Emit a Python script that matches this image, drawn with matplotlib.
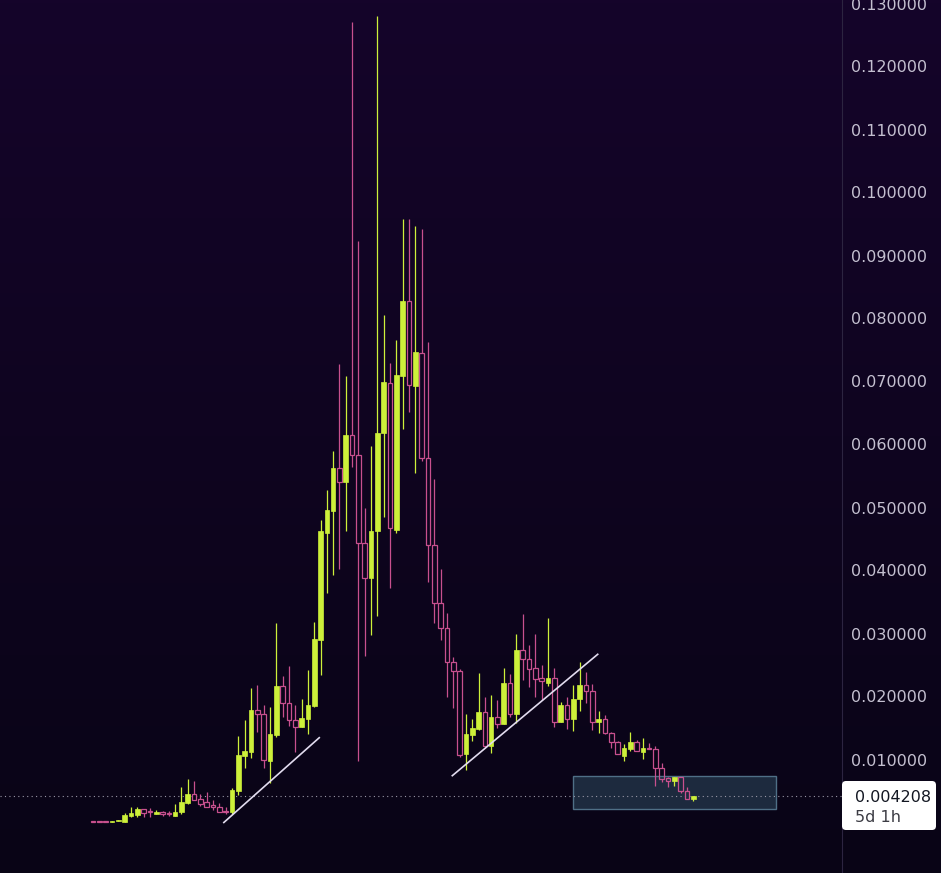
import numpy as np
import matplotlib
matplotlib.use('Agg')
import matplotlib.pyplot as plt
from matplotlib.patches import Rectangle, FancyBboxPatch

# candle data (5d candles)
opens = [.0001, .0001, .0001, .0001, .0002, .0001, .0011, .0012, .0021, .0017,
         .0013, .0016, .0015, .0011, .0016, .0031, .0045, .0037, .0033, .0028,
         .0025, .0019, .0016, .0050, .0106, .0112, .0179, .0173, .0098, .0139,
         .0217, .0189, .0163, .0152, .0165, .0185, .0290, .0460, .0495, .0562,
         .0541, .0615, .0583, .0444, .0388, .0462, .0618, .0698, .0464, .0709,
         .0828, .0693, .0746, .0578, .0440, .0349, .0308, .0254, .0240, .0109,
         .0139, .0148, .0175, .0122, .0167, .0157, .0221, .0172, .0274, .0260,
         .0245, .0229, .0222, .0230, .0160, .0187, .0165, .0196, .0218, .0209,
         .0160, .0164, .0142, .0127, .0106, .0117, .0127, .0112, .0118, .0117,
         .0086, .0070, .0066, .0072, .0050, .0038]
highs = [.0001, .0001, .0001, .0002, .0004, .0015, .0025, .0024, .0021, .0023,
         .0020, .0019, .0018, .0029, .0056, .0069, .0066, .0045, .0049, .0036,
         .0031, .0024, .0055, .0137, .0163, .0213, .0218, .0187, .0184, .0317,
         .0233, .0248, .0187, .0196, .0242, .0319, .0480, .0527, .0590, .0727,
         .0708, .1270, .0923, .0500, .0598, .1280, .0806, .0730, .0766, .0958,
         .0958, .0947, .0942, .0762, .0545, .0402, .0332, .0262, .0243, .0172,
         .0165, .0237, .0200, .0203, .0194, .0245, .0235, .0300, .0331, .0282,
         .0300, .0250, .0324, .0246, .0192, .0200, .0218, .0254, .0239, .0220,
         .0177, .0171, .0144, .0130, .0124, .0143, .0131, .0134, .0126, .0122,
         .0094, .0072, .0072, .0072, .0057, .0042]
lows = [.0001, .0001, .0001, .0001, .0002, .0001, .0009, .0008, .0009, .0009,
        .0013, .0010, .0011, .0011, .0013, .0029, .0036, .0026, .0025, .0020,
        .0017, .0013, .0014, .0044, .0087, .0103, .0143, .0087, .0063, .0136,
        .0167, .0153, .0112, .0152, .0140, .0184, .0234, .0365, .0393, .0403,
        .0463, .0565, .0097, .0264, .0297, .0327, .0485, .0373, .0460, .0624,
        .0652, .0554, .0574, .0382, .0316, .0289, .0199, .0181, .0104, .0084,
        .0129, .0147, .0118, .0110, .0150, .0157, .0168, .0158, .0226, .0215,
        .0200, .0194, .0216, .0151, .0159, .0148, .0146, .0177, .0189, .0147,
        .0142, .0140, .0118, .0109, .0098, .0114, .0113, .0101, .0116, .0058,
        .0064, .0057, .0058, .0047, .0038, .0034]
closes = [.0001, .0001, .0001, .0002, .0003, .0012, .0015, .0021, .0015, .0016,
          .0016, .0014, .0014, .0016, .0032, .0045, .0036, .0030, .0025, .0024,
          .0017, .0016, .0052, .0107, .0113, .0179, .0173, .0099, .0140, .0217,
          .0189, .0162, .0152, .0166, .0187, .0291, .0462, .0496, .0562, .0541,
          .0615, .0583, .0444, .0388, .0463, .0619, .0699, .0467, .0710, .0828,
          .0694, .0747, .0578, .0440, .0349, .0308, .0254, .0240, .0107, .0140,
          .0150, .0175, .0122, .0167, .0157, .0221, .0172, .0274, .0260, .0244,
          .0228, .0224, .0230, .0160, .0187, .0165, .0196, .0218, .0208, .0160,
          .0164, .0142, .0127, .0109, .0118, .0127, .0113, .0118, .0116, .0086,
          .0069, .0066, .0072, .0050, .0038, .0042]

last_price = 0.004208
last_label = '0.004208'
timer_label = '5d 1h'
price_ticks = [0.01, 0.02, 0.03, 0.04, 0.05, 0.06, 0.07, 0.08, 0.09, 0.10, 0.11, 0.12, 0.13]

# drawings on the chart (bar index, price)
trend1_x = [20.7, 35.8]
trend1_y = [0.0, 0.01346]
trend2_x = [56.85, 79.86]
trend2_y = [0.00743, 0.0267]
box_x = [76.0, 108.0]
box_y = [0.0021, 0.00738]

UP = '#cdf03a'
DOWN = '#c8508e'
W, H = 941, 873
PX = 6.32          # pixels per bar
X0 = 93            # pixel of first bar
PPX = 6300.0       # pixels per price unit
Y0 = 822.5         # pixel of price zero

fig = plt.figure(figsize=(W / 100, H / 100), dpi=100)

# background gradient
bg = fig.add_axes([0, 0, 1, 1], zorder=0)
top = np.array([21, 4, 42]) / 255.0
bot = np.array([9, 5, 22]) / 255.0
g = np.linspace(0, 1, 256)[:, None, None]
bg.imshow(top + (bot - top) * g, aspect='auto', extent=[0, 1, 0, 1])
bg.axis('off')

ax = fig.add_axes([0, 0, 842 / W, 1], zorder=1)
ax.patch.set_alpha(0)
ax.set_xlim(-X0 / PX, (842 - X0) / PX)
ax.set_ylim((Y0 - H) / PPX, Y0 / PPX)
for s in ['top', 'bottom', 'left']:
    ax.spines[s].set_visible(False)
ax.spines['right'].set_color('#2c2440')
ax.tick_params(axis='x', bottom=False, labelbottom=False)
ax.yaxis.tick_right()
ax.set_yticks(price_ticks)
ax.set_yticklabels(['%.6f' % t for t in price_ticks])
ax.tick_params(axis='y', length=0, pad=6.5, labelsize=11.5, labelcolor='#c4c0d0')

min_h = 1.1 / PPX
bw = 0.74
for i in range(len(opens)):
    o, h, l, c = opens[i], highs[i], lows[i], closes[i]
    lo_b, hi_b = min(o, c), max(o, c)
    bh = max(hi_b - lo_b, min_h)
    if c > o:
        ax.vlines(i, l, h, color=UP, lw=0.9, zorder=3)
        ax.bar(i, bh, bottom=lo_b, width=bw, color=UP, edgecolor=UP, lw=0.5, zorder=4)
    else:
        if h > hi_b:
            ax.vlines(i, hi_b, h, color=DOWN, lw=0.9, zorder=3)
        if l < lo_b:
            ax.vlines(i, l, lo_b, color=DOWN, lw=0.9, zorder=3)
        ax.bar(i, bh, bottom=lo_b, width=bw, facecolor='none', edgecolor=DOWN, lw=0.9, zorder=4)

ax.add_patch(Rectangle((box_x[0], box_y[0]), box_x[1] - box_x[0], box_y[1] - box_y[0],
                       facecolor='#1d2a3e', edgecolor='#4f6f86', lw=1, zorder=2))
ax.axhline(last_price, color='#9a98a8', lw=0.8, ls=(0, (1, 3)), zorder=2.5)
ax.plot(trend1_x, trend1_y, color='#e2dcef', lw=1.2, zorder=5)
ax.plot(trend2_x, trend2_y, color='#e2dcef', lw=1.2, zorder=5)

# last price label on the scale
lab = FancyBboxPatch((842 / 100, (H - 830) / 100), 94 / 100, 49 / 100,
                     boxstyle='round,pad=0,rounding_size=0.04',
                     transform=fig.dpi_scale_trans, facecolor='white', edgecolor='none', zorder=10)
fig.add_artist(lab)
fig.text(855 / W, 1 - 797 / H, last_label, ha='left', va='center', fontsize=11.5, color='#131722', zorder=11)
fig.text(855 / W, 1 - 818 / H, timer_label, ha='left', va='center', fontsize=11.5, color='#3c3c44', zorder=11)

plt.savefig('out.png', dpi=100)
